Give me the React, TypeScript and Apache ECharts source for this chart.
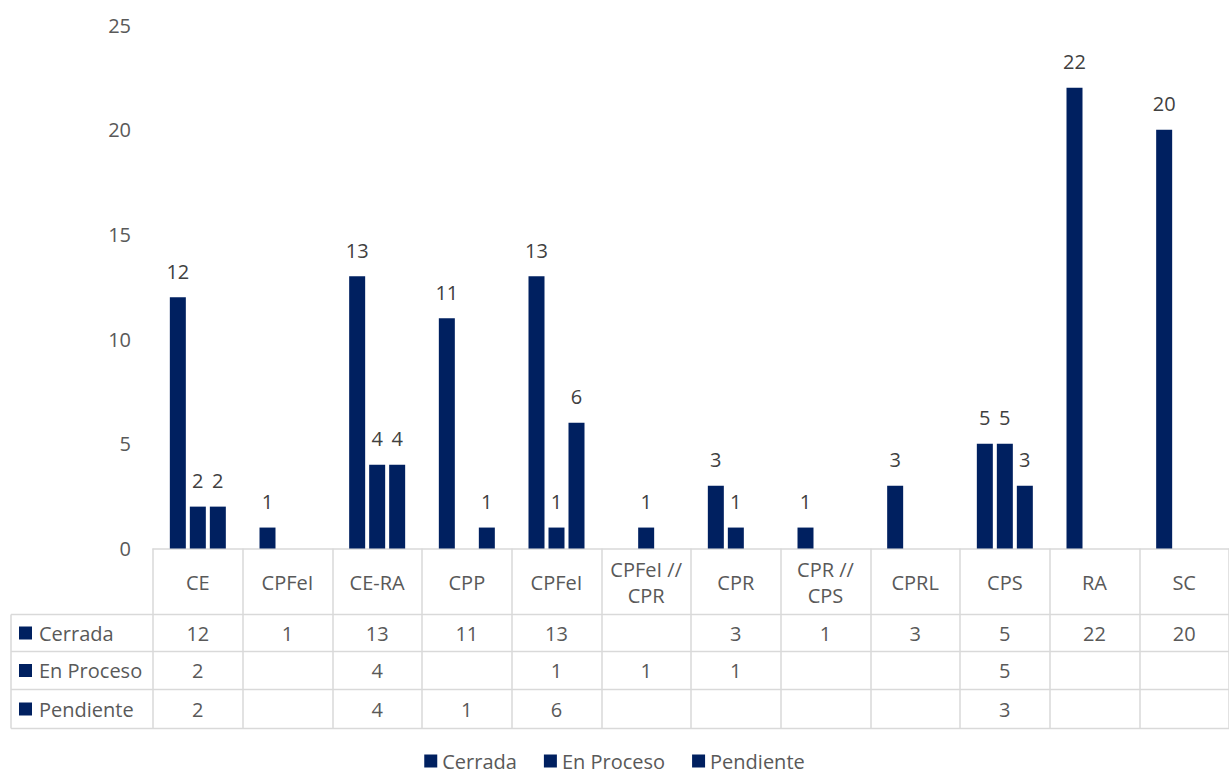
import React, { useEffect, useRef } from "react";
import * as echarts from "echarts";

const categories = ["CE", "CPFeI", "CE-RA", "CPP", "CPFeI", "CPFeI // CPR", "CPR", "CPR // CPS", "CPRL", "CPS", "RA", "SC"];
const seriesNames = ["Cerrada", "En Proceso", "Pendiente"];
const cerrada = [12, 1, 13, 11, 13, null, 3, 1, 3, 5, 22, 20];
const enProceso = [2, null, 4, null, 1, 1, 1, null, null, 5, null, null];
const pendiente = [2, null, 4, 1, 6, null, null, null, null, 3, null, null];
const yTicks = { min: 0, max: 25, interval: 5 };

const FONT = "'Open Sans', 'Noto Sans', sans-serif";
const TEXT = "#595959";
const BAR = "#002060";
const LINE = "#d9d9d9";

export default function App() {
  const ref = useRef<HTMLDivElement>(null);
  useEffect(() => {
    if (!ref.current) return;
    const chart = echarts.init(ref.current, undefined, { renderer: "svg" });
    const gridLeft = 153;
    const gridTop = 25;
    const gridBottomY = 548.5;
    const rowLines = [614.5, 651.5, 689.5, 728.5];
    const tableLeft = 11;
    const allSeries = [cerrada, enProceso, pendiente];

    const mkSeries = (name: string, data: (number | null)[]) => ({
      name,
      type: "bar",
      data,
      barWidth: 16,
      barGap: "25%",
      itemStyle: { color: BAR },
      label: {
        show: true,
        position: "top",
        distance: 16,
        color: "#404040",
        fontSize: 20,
        fontFamily: FONT,
        lineHeight: 20,
      },
    });

    chart.setOption({
      animation: false,
      textStyle: { fontFamily: FONT },
      grid: { left: gridLeft, right: 0, top: gridTop, bottom: 773 - gridBottomY, containLabel: false },
      legend: {
        data: seriesNames,
        left: "center",
        top: 751,
        padding: 0,
        icon: "rect",
        itemWidth: 13,
        itemHeight: 13,
        itemGap: 27,
        textStyle: { color: TEXT, fontSize: 20, fontFamily: FONT, lineHeight: 20 },
      },
      xAxis: {
        type: "category",
        data: categories,
        axisLine: { show: true, lineStyle: { color: LINE, width: 1.5 } },
        axisTick: { show: true, interval: 0, length: 180, lineStyle: { color: LINE, width: 1.5 } },
        axisLabel: {
          interval: 0,
          margin: 34,
          verticalAlign: "middle",
          color: TEXT,
          fontSize: 20,
          lineHeight: 26,
          fontFamily: FONT,
          formatter: (v: string) => v.replace(" // ", " //\n"),
        },
        splitLine: { show: false },
      },
      yAxis: {
        type: "value",
        min: yTicks.min,
        max: yTicks.max,
        interval: yTicks.interval,
        axisLine: { show: false },
        axisTick: { show: false },
        splitLine: { show: false },
        axisLabel: { color: TEXT, fontSize: 20, fontFamily: FONT, margin: 22 },
      },
      series: seriesNames.map((n, i) => mkSeries(n, allSeries[i])),
    });

    const graphics: any[] = [];
    rowLines.forEach((y) => {
      graphics.push({
        type: "line",
        shape: { x1: tableLeft, y1: y, x2: 1229, y2: y },
        style: { stroke: LINE, lineWidth: 1.5 },
        silent: true,
      });
    });
    graphics.push({
      type: "line",
      shape: { x1: tableLeft, y1: rowLines[0], x2: tableLeft, y2: rowLines[rowLines.length - 1] },
      style: { stroke: LINE, lineWidth: 1.5 },
      silent: true,
    });
    seriesNames.forEach((name, r) => {
      const cy = (rowLines[r] + rowLines[r + 1]) / 2;
      graphics.push({
        type: "rect",
        shape: { x: 19, y: cy - 6.5, width: 13, height: 13 },
        style: { fill: BAR },
        silent: true,
      });
      graphics.push({
        type: "text",
        x: 39,
        y: cy,
        style: { text: name, fill: TEXT, fontSize: 20, fontFamily: FONT, verticalAlign: "middle" },
        silent: true,
      });
      allSeries[r].forEach((v, i) => {
        if (v == null) return;
        const px = chart.convertToPixel({ xAxisIndex: 0 }, i) as number;
        graphics.push({
          type: "text",
          x: px,
          y: cy,
          style: {
            text: String(v),
            fill: TEXT,
            fontSize: 20,
            fontFamily: FONT,
            align: "center",
            verticalAlign: "middle",
          },
          silent: true,
        });
      });
    });
    chart.setOption({ graphic: graphics });

    return () => chart.dispose();
  }, []);
  return (
    <div
      ref={ref}
      style={{ position: "absolute", left: 0, top: 0, width: 1229, height: 773, background: "#fff" }}
    />
  );
}
